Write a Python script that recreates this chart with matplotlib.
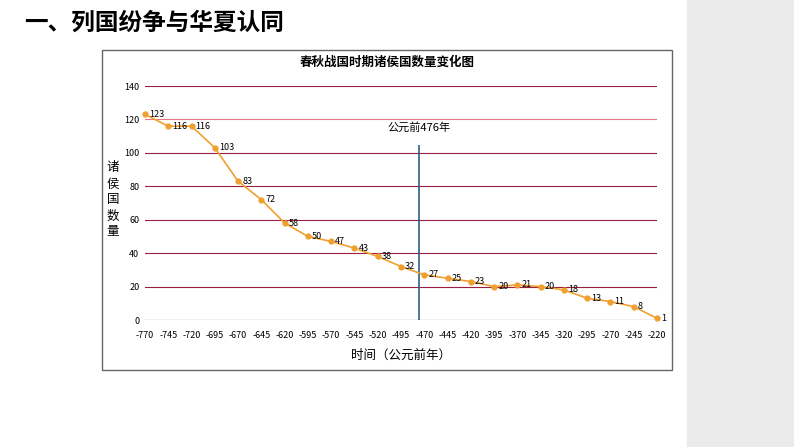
import matplotlib
matplotlib.use("Agg")
import matplotlib.pyplot as plt
from matplotlib.patches import Rectangle

plt.rcParams['font.family'] = ['Noto Sans CJK SC', 'DejaVu Sans']

years = list(range(-770, -219, 25))
counts = [123,116,116,103,83,72,58,50,47,43,38,32,27,25,23,20,21,20,18,13,11,8,1]
yticks = [0,20,40,60,80,100,120,140]
marker_year = -476

fig = plt.figure(figsize=(7.94,4.47), dpi=100)
fig.patch.set_facecolor('white')
fig.add_artist(Rectangle((0.865,0),0.135,1,transform=fig.transFigure,color='#ebebeb',zorder=0))
fig.add_artist(Rectangle((102/794,1-370/447),570/794,320/447,transform=fig.transFigure,
                         facecolor='white',edgecolor='#666666',lw=1,zorder=1))
fig.text(0.03,0.95,'一、列国纷争与华夏认同',fontsize=17,fontweight='bold',va='center')
fig.text(0.5*(102+672)/794,1-62/447,'春秋战国时期诸侯国数量变化图',fontsize=9,ha='center',va='center',fontweight='bold')
fig.text(0.5*(145+657)/794,1-355/447,'时间（公元前年）',fontsize=9,ha='center',va='center')
fig.text(113/794,1-200/447,'诸\n侯\n国\n数\n量',fontsize=9,ha='center',va='center',linespacing=1.3)

ax = fig.add_axes([145/794,1-320/447,512/794,234/447],zorder=2)
ax.set_facecolor('none')
ax.set_xlim(-770,-220)
ax.set_ylim(0,140)
ax.set_yticks(yticks)
ax.set_xticks(years)
ax.set_xticklabels([str(y) for y in years])
ax.tick_params(labelsize=6.5,length=0,pad=8)
ax.tick_params(axis='y',pad=4)
for s in ax.spines.values(): s.set_visible(False)
for y in yticks:
    ax.axhline(y,color='#e8768a' if y==120 else '#9b2040',lw=0.8,zorder=1)
ax.axhline(0,color='#999999',lw=0.8,zorder=1)
ax.plot(years,counts,color='#f0a030',lw=1.2,marker='o',ms=3.5,zorder=3,clip_on=False)
for x,c in zip(years,counts):
    ax.annotate(str(c),(x,c),xytext=(3,0),textcoords='offset points',fontsize=6.5,va='center',ha='left',zorder=4)
ax.vlines(marker_year,0,105,color='#2f5f8a',lw=1.2,zorder=2)
ax.text(marker_year,112,'公元前476年',fontsize=8,ha='center',va='bottom')
fig.savefig('out.png',dpi=100)
